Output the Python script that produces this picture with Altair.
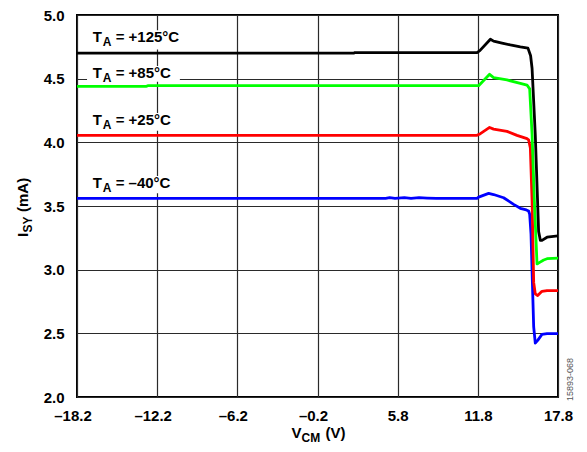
import altair as alt
import pandas as pd

# ---------------- data ----------------
series_names = ["-40", "+25", "+85", "+125"]
series_colors = ["#0000ff", "#ff0000", "#00ff00", "#000000"]

v_blue = [-18.2, 4.9, 5.2, 5.6, 6.3, 6.8, 7.4, 8.0, 8.7, 11.74, 11.86, 12.61, 12.98, 13.73, 14.48,
          14.98, 15.43, 15.6, 15.68, 15.78, 15.98, 16.1, 16.28, 16.6, 16.98, 17.8]
i_blue = [3.56, 3.56, 3.565, 3.56, 3.565, 3.56, 3.565, 3.562, 3.56, 3.56, 3.57, 3.599, 3.59, 3.565, 3.513,
          3.482, 3.469, 3.461, 3.435, 3.28, 2.55, 2.424, 2.445, 2.492, 2.497, 2.497]

v_red = [-18.2, 11.74, 11.99, 12.68, 12.98, 13.98, 14.73, 15.48, 15.6, 15.73, 15.86, 15.98, 16.1,
         16.28, 16.6, 16.98, 17.8]
i_red = [4.055, 4.055, 4.068, 4.117, 4.104, 4.086, 4.055, 4.029, 4.02, 3.955, 3.54, 2.9, 2.81,
         2.797, 2.83, 2.836, 2.836]

v_green = [-18.2, -13.0, -12.9, 11.86, 12.68, 12.98, 13.98, 14.98, 15.48, 15.68, 15.86, 16.03,
           16.23, 16.43, 16.73, 16.98, 17.8]
i_green = [4.44, 4.44, 4.445, 4.445, 4.534, 4.508, 4.49, 4.463, 4.45, 4.42, 4.06, 3.54,
           3.045, 3.057, 3.076, 3.086, 3.09]

v_black = [-18.2, 2.5, 2.6, 11.74, 11.95, 12.74, 12.98, 13.61, 14.23, 14.98, 15.55, 15.75, 15.86,
           16.1, 16.35, 16.48, 16.6, 16.98, 17.8]
i_black = [4.70, 4.70, 4.705, 4.705, 4.72, 4.81, 4.795, 4.78, 4.765, 4.75, 4.74, 4.68, 4.58,
           4.06, 3.30, 3.23, 3.23, 3.255, 3.265]

x_ticks = [-18.2, -12.2, -6.2, -0.2, 5.8, 11.8, 17.8]
y_ticks = [2.0, 2.5, 3.0, 3.5, 4.0, 4.5, 5.0]

label_temps = ["= +125°C", "= +85°C", "= +25°C", "= –40°C"]
label_x = [-17.03, -17.03, -17.03, -17.03]
label_y = [4.789, 4.508, 4.133, 3.638]
box_x = [-17.45, -17.45, -17.45, -17.45]
box_x2 = [-10.1, -10.5, -10.5, -10.5]
box_y = [4.73, 4.475, 4.09, 3.60]
box_y2 = [4.88, 4.60, 4.23, 3.735]

FONT = "Liberation Sans"

rows = []
for name, vs, ii in [("-40", v_blue, i_blue), ("+25", v_red, i_red),
                     ("+85", v_green, i_green), ("+125", v_black, i_black)]:
    for k, (a, b) in enumerate(zip(vs, ii)):
        rows.append({"series": name, "v": a, "i": b, "k": k})
df = pd.DataFrame(rows)

xenc = alt.X("v:Q", scale=alt.Scale(domain=[-18.2, 17.8], nice=False, zero=False),
             axis=alt.Axis(values=x_ticks, title=None, ticks=False, domain=False, grid=True,
                           gridColor="#2a2a2a", gridWidth=1.2,
                           labelExpr="datum.value < 0 ? '–' + format(-datum.value, '.1f') : format(datum.value, '.1f')",
                           labelOffset={"condition": {"test": "datum.value < 0", "value": -4.5}, "value": 0},
                           labelFont=FONT, labelFontSize=15, labelFontWeight="bold",
                           labelColor="black", labelPadding=11, labelFlush=False,
                           labelOverlap=False))
yenc = alt.Y("i:Q", scale=alt.Scale(domain=[2.0, 5.0], nice=False, zero=False),
             axis=alt.Axis(values=y_ticks, title=None, ticks=False, domain=False, grid=True,
                           gridColor="#2a2a2a", gridWidth=1.2, format=".1f",
                           labelFont=FONT, labelFontSize=15, labelFontWeight="bold",
                           labelColor="black", labelPadding=13, labelFlush=False,
                           labelOverlap=False))

layers = []
for name, col in zip(series_names, series_colors):
    layers.append(
        alt.Chart(df).transform_filter(alt.datum.series == name)
        .mark_line(color=col, strokeWidth=2.8, strokeJoin="round", clip=True)
        .encode(x=xenc, y=yenc, order="k:Q")
    )

lab = pd.DataFrame({"t": label_temps, "lx": label_x, "ly": label_y,
                    "bx": box_x, "bx2": box_x2, "by": box_y, "by2": box_y2})

boxes = alt.Chart(lab).mark_rect(color="white").encode(
    x="bx:Q", x2="bx2:Q", y="by:Q", y2="by2:Q")

txt_kw = dict(align="left", baseline="alphabetic", font=FONT, fontWeight="bold", color="black")
lab_T = alt.Chart(lab).mark_text(fontSize=15, **txt_kw).encode(
    x="lx:Q", y="ly:Q", text=alt.value("T"))
lab_A = alt.Chart(lab).mark_text(fontSize=12, dx=10, dy=4, **txt_kw).encode(
    x="lx:Q", y="ly:Q", text=alt.value("A"))
lab_R = alt.Chart(lab).mark_text(fontSize=15, dx=23, **txt_kw).encode(
    x="lx:Q", y="ly:Q", text="t:N")

# axis titles with subscripts
one = pd.DataFrame({"d": [0]})
xt1 = alt.Chart(one).mark_text(fontSize=15, **txt_kw).encode(
    x=alt.value(214.5), y=alt.value(423), text=alt.value("V"))
xt2 = alt.Chart(one).mark_text(fontSize=12, dx=10, dy=4, **txt_kw).encode(
    x=alt.value(214.5), y=alt.value(423), text=alt.value("CM"))
xt3 = alt.Chart(one).mark_text(fontSize=15, dx=34, **txt_kw).encode(
    x=alt.value(214.5), y=alt.value(423), text=alt.value("(V)"))

yt1 = alt.Chart(one).mark_text(fontSize=15, angle=270, **txt_kw).encode(
    x=alt.value(-49), y=alt.value(222), text=alt.value("I"))
yt2 = alt.Chart(one).mark_text(fontSize=12, angle=270, dx=4.5, dy=4, **txt_kw).encode(
    x=alt.value(-49), y=alt.value(222), text=alt.value("SY"))
yt3 = alt.Chart(one).mark_text(fontSize=15, angle=270, dx=25, **txt_kw).encode(
    x=alt.value(-49), y=alt.value(222), text=alt.value("(mA)"))

side = alt.Chart(one).mark_text(fontSize=9, angle=270, align="right", baseline="alphabetic",
                                font=FONT, color="#555555").encode(
    x=alt.value(496), y=alt.value(343), text=alt.value("15893-068"))

chart = alt.layer(*layers, boxes, lab_T, lab_A, lab_R, xt1, xt2, xt3, yt1, yt2, yt3, side).properties(
    width=481, height=382,
    padding={"left": 69, "top": 7, "right": 21, "bottom": 47},
    autosize=alt.AutoSizeParams(type="none"),
).configure_view(stroke="black", strokeWidth=2)

chart.save("out.html", embed_options={"renderer": "svg", "actions": False})
